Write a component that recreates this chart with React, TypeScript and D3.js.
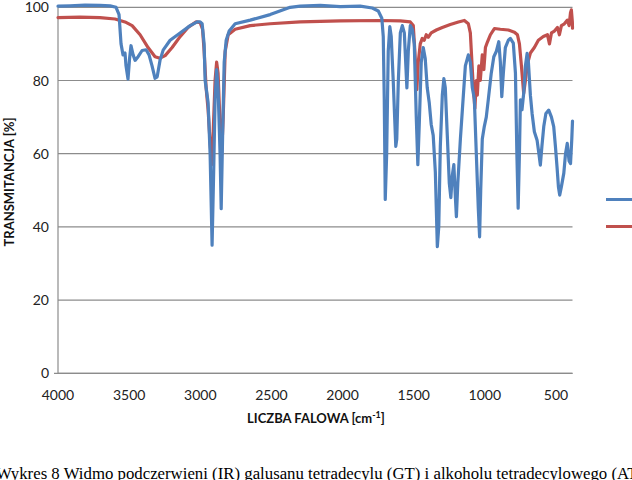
import React from "react";
import * as d3 from "d3";

// Wavenumber [cm-1], transmittance [%]
const gtWave = [4000,3916,3810,3705,3634,3592,3571,3557,3543,3529,3522,3508,3497,3487,3472,3458,3437,3409,3381,3360,3339,3318,3303,3283,3261,3212,3142,3071,3022,3001,2987,2973,2966,2959,2945,2931,2917,2906,2896,2885,2875,2861,2853,2843,2832,2818,2797,2755,2649,2509,2368,2298,2157,2016,1876,1791,1749,1724,1714,1707,1700,1690,1679,1668,1658,1644,1626,1619,1608,1594,1580,1566,1548,1538,1524,1510,1496,1482,1471,1461,1447,1433,1419,1405,1391,1377,1363,1348,1334,1324,1313,1299,1288,1278,1264,1250,1239,1229,1218,1207,1200,1190,1172,1158,1137,1116,1102,1088,1074,1060,1046,1037,1029,1018,1004,990,976,955,937,919,902,891,881,870,856,835,821,800,785,775,766,757,750,739,727,715,703,694,680,668,652,633,620,610,599,586,571,551,532,516,504,492,483,474,462,445,433,421,408,398,389,384];
const gtValues = [100.3,100.4,100.6,100.5,100.4,100.0,98,90,87,87.5,84,80.4,86,89.5,87,85.5,86.5,88.2,88.4,87,84,80.6,81,85.5,88.3,91,93,95,96,96,95.5,90,80,78,74,60,35,55,75,83,78,60,45,65,85,91,93.5,95.5,96.5,98,100,100.3,100.5,100.2,100.3,99.8,99,97,92,75,47.5,60,88,94.7,92,80,62,64,80,93,95,93,78,88,95,94,90,70,57,68,85,89,86,78,74,68,65,55,34.6,40,62,76,80.5,78,65,52,48,54,57,48,42.8,52,64,72,84,87,85,78,75,60,45,37.3,50,64,67.4,70,74.7,82,86.5,88,90.6,85,75.6,82,89,91,91.5,90.2,82,60,45.1,60,74.7,72,76.5,84,87.4,85,76,71,66,63.7,60,56.9,62,67.4,71,71.9,70,67.4,62,56,51,48.7,51,54.7,60,62.8,58,57.3,64,68.9];

const atWave = [4000,3845,3705,3599,3529,3479,3423,3367,3318,3283,3247,3198,3142,3086,3029,3001,2984,2973,2959,2945,2931,2920,2910,2896,2885,2875,2861,2850,2839,2825,2804,2755,2649,2509,2298,2016,1735,1594,1524,1503,1492,1478,1468,1454,1440,1426,1412,1398,1377,1341,1299,1243,1186,1144,1116,1102,1091,1081,1070,1060,1053,1042,1032,1018,1007,996,982,961,933,891,835,792,771,757,743,727,715,701,680,652,624,589,560,546,532,511,490,476,462,441,420,408,398,392,385,384];
const atValues = [97.2,97.3,97.2,96.8,96,95,92.5,89,86.5,86.1,86.8,89,92,94.5,96,95.8,94,88,78,72,63,57,65,80,85,82,68,59.6,70,88,92.5,94,95,95.5,96,96.3,96.4,96.3,96,95,88,77.5,85,90,91.5,91,92.5,91.8,93,93.8,94.5,95.3,96,96.4,95.5,93,85,78,72.4,80,76,84,80,87,83,89,90.5,92.5,94.2,94,93.8,93.2,92.5,90,84,76.5,80,84.5,87.5,89,91,92,92.5,90,93,93.5,94.5,92.5,95,95.5,96.5,95,98.5,99.3,96,94.3];

const xTicks = [4000,3500,3000,2500,2000,1500,1000,500];
const yTicks = [0,20,40,60,80,100];
const seriesNames = ["GT","AT"];
const seriesColors = ["#4F81BD","#C0504D"];

export default function App() {
  const W = 632, H = 480;
  const left = 58, right = 572.5, top = 7.3, bottom = 373.3;
  const x = d3.scaleLinear().domain([4000, 384]).range([left, right]);
  const y = d3.scaleLinear().domain([0, 100]).range([bottom, top]);
  const line = d3.line<[number, number]>().x(d => x(d[0])).y(d => y(d[1]));
  const gt: [number, number][] = gtWave.map((w, i) => [w, gtValues[i]]);
  const at: [number, number][] = atWave.map((w, i) => [w, atValues[i]]);
  const font = "Lato, 'Open Sans', sans-serif";
  return (
    <svg width={W} height={H} style={{ position: "absolute", left: 0, top: 0, background: "#fff" }}>
      <rect width={W} height={H} fill="#fff" />
      {yTicks.map(t => (
        <g key={t}>
          <line x1={left} x2={right} y1={y(t)} y2={y(t)} stroke="#8c8c8c" strokeWidth={1.2} />
          <text x={49} y={y(t)} dy="0.36em" textAnchor="end" fontFamily={font} fontSize={14} fill="#222">{t}</text>
        </g>
      ))}
      <line x1={left} x2={left} y1={top} y2={bottom} stroke="#8c8c8c" strokeWidth={1.2} />
      <line x1={left - 4} x2={right} y1={bottom} y2={bottom} stroke="#8c8c8c" strokeWidth={1.2} />
      {xTicks.map(t => (
        <text key={t} x={x(t)} y={400} textAnchor="middle" fontFamily={font} fontSize={14} fill="#222">{t}</text>
      ))}
      <path d={line(at) || ""} fill="none" stroke={seriesColors[1]} strokeWidth={3.2} strokeLinejoin="round" strokeLinecap="round" />
      <path d={line(gt) || ""} fill="none" stroke={seriesColors[0]} strokeWidth={3.2} strokeLinejoin="round" strokeLinecap="round" />
      {seriesNames.map((n, i) => (
        <line key={n} x1={606} x2={640} y1={199.5 + i * 27} y2={199.5 + i * 27} stroke={seriesColors[i]} strokeWidth={3.2} />
      ))}
      <text x={316} y={423} textAnchor="middle" fontFamily={font} fontSize={13} fontWeight="bold" fill="#111">
        LICZBA FALOWA [cm<tspan dy={-5} fontSize={9}>-1</tspan><tspan dy={5}>]</tspan>
      </text>
      <text transform="translate(14,182) rotate(-90)" textAnchor="middle" fontFamily={font} fontSize={13} fontWeight="bold" fill="#111">
        TRANSMITANCJA  [%]
      </text>
      <text x={-4} y={479} fontFamily="'Liberation Serif', 'Times New Roman', serif" fontSize={16.8} fill="#000">
        Wykres 8 Widmo podczerwieni (IR) galusanu tetradecylu (GT) i alkoholu tetradecylowego (AT)
      </text>
    </svg>
  );
}
